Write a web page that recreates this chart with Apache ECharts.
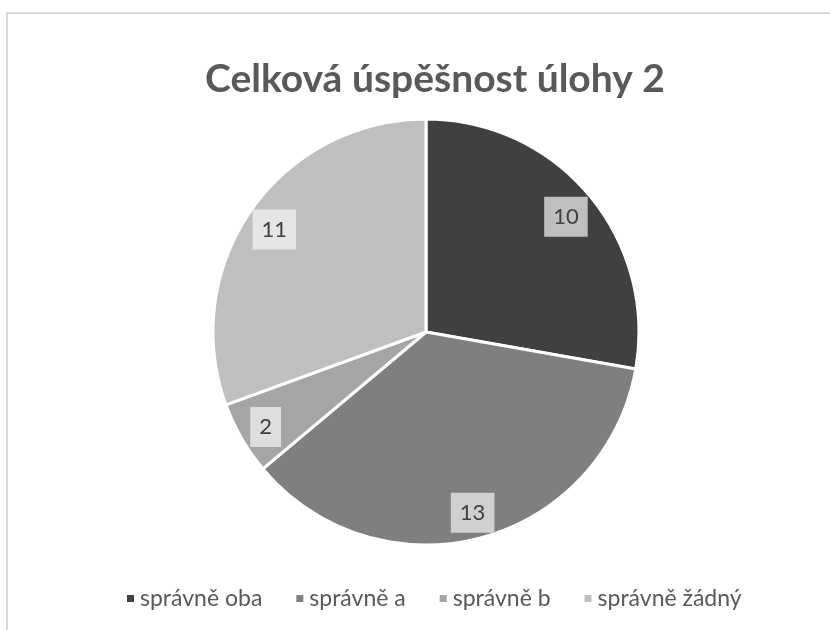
<!DOCTYPE html>
<html>
<head>
<meta charset="utf-8">
<script src="https://cdn.jsdelivr.net/npm/echarts@6/dist/echarts.min.js"></script>
<style>
html,body{margin:0;padding:0;background:#fff;}
#frame{position:absolute;left:6px;top:12px;width:830px;height:630px;border-left:2px solid #d9d9d9;border-top:2px solid #d9d9d9;}
#chart{position:absolute;left:0;top:0;width:830px;height:630px;}
</style>
</head>
<body>
<div id="frame"></div>
<div id="chart"></div>
<script>
// kategorie a hodnoty
var names = ['správně oba', 'správně a', 'správně b', 'správně žádný'];
var values = [10, 13, 2, 11];
var colors = ['#404040', '#7f7f7f', '#a5a5a5', '#bfbfbf'];
var labelBg = ['#bfbfbf', '#d0d0d0', '#dedede', '#e6e6e6'];

var pieData = [];
var labelData = [];
for (var i = 0; i < names.length; i++) {
    pieData.push({name: names[i], value: values[i], itemStyle: {color: colors[i]}});
    labelData.push({
        name: names[i],
        value: values[i],
        label: {backgroundColor: labelBg[i]}
    });
}

var myChart = echarts.init(document.getElementById('chart'));
var option = {
    animation: false,
    title: {
        text: 'Celková úspěšnost úlohy 2',
        left: 200,
        top: 55,
        textStyle: {
            fontFamily: 'Lato',
            fontWeight: 'bold',
            fontSize: 39,
            color: '#595959'
        }
    },
    legend: {
        data: names,
        bottom: 15,
        left: 120,
        itemWidth: 9,
        itemHeight: 9,
        itemGap: 32,
        icon: 'rect',
        textStyle: {
            fontFamily: 'Lato',
            fontSize: 23,
            color: '#595959'
        }
    },
    series: [
        {
            name: 'hodnoty',
            type: 'pie',
            center: [426, 332],
            radius: [0, 213],
            startAngle: 90,
            clockwise: true,
            label: {show: false},
            labelLine: {show: false},
            itemStyle: {borderColor: '#ffffff', borderWidth: 3},
            emphasis: {disabled: true},
            data: pieData
        },
        {
            name: 'popisky',
            type: 'pie',
            silent: true,
            center: [425, 335],
            radius: [146, 216],
            startAngle: 90,
            clockwise: true,
            itemStyle: {color: 'rgba(0,0,0,0)'},
            label: {
                show: true,
                position: 'inside',
                formatter: '{c}',
                fontFamily: 'Lato',
                fontSize: 22,
                color: '#404040',
                padding: [10, 9, 8, 9]
            },
            labelLine: {show: false},
            emphasis: {disabled: true},
            data: labelData
        }
    ]
};
myChart.setOption(option);
</script>
</body>
</html>
